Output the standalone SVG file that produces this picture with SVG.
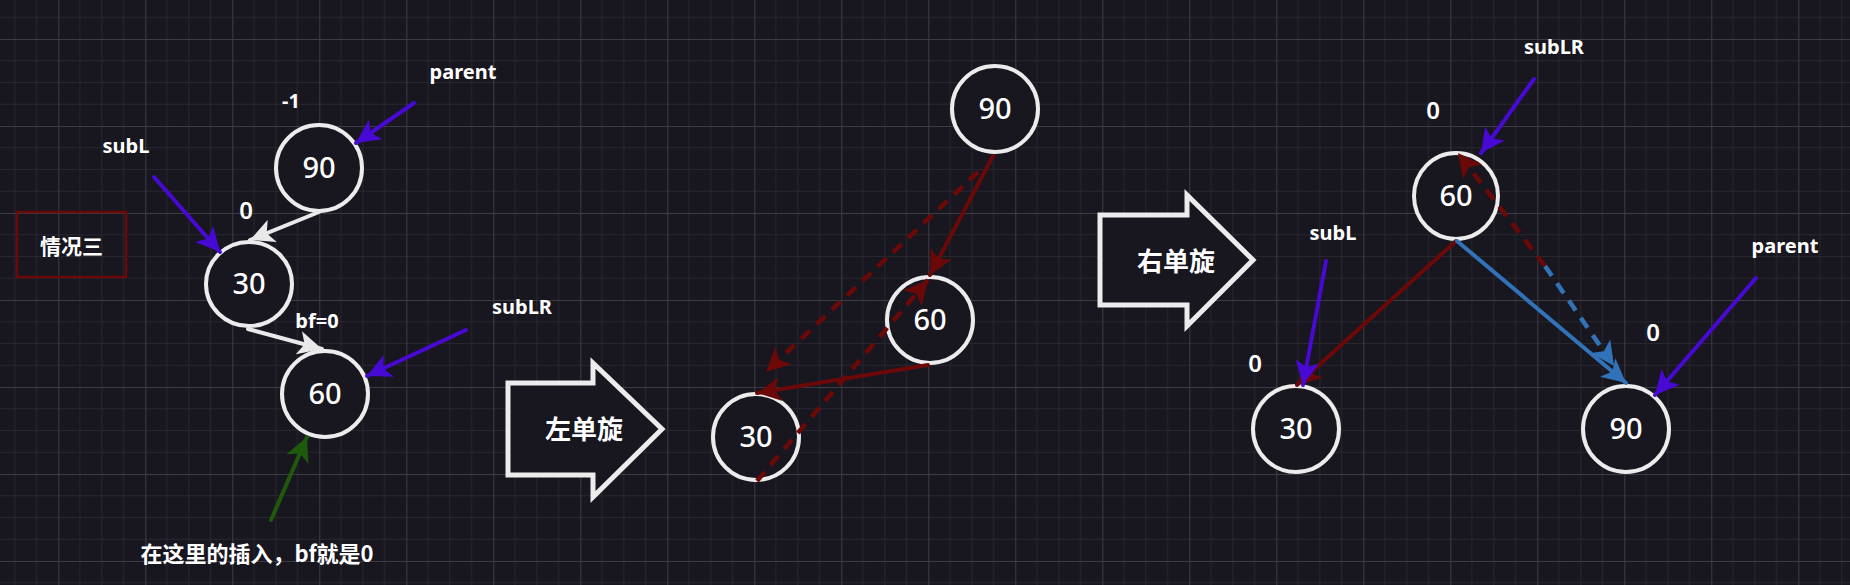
<svg xmlns="http://www.w3.org/2000/svg" width="1850" height="585" viewBox="0 0 1850 585">
<style>
.node ellipse{fill:#18161f;stroke:#ececec;stroke-width:4}
.num{font-family:"Noto Sans","Liberation Sans",sans-serif;font-weight:500;font-size:29px;fill:#ffffff;text-anchor:middle}
.lbl{font-family:"Noto Sans","Liberation Sans",sans-serif;font-weight:bold;font-size:20px;fill:#ffffff;text-anchor:middle}
.zero{font-size:24px;font-weight:600}
.cjk{font-family:"Noto Sans CJK SC","Noto Sans",sans-serif;font-weight:bold;fill:#ffffff;text-anchor:middle}
.w{stroke:#e9e9e9;stroke-width:4;fill:none;stroke-linecap:round}
.p{stroke:#4709d3;stroke-width:4;fill:none;stroke-linecap:round}
.g{stroke:#1f5a0c;stroke-width:4;fill:none;stroke-linecap:round}
.r{stroke:#6b0808;stroke-width:4;fill:none;stroke-linecap:round}
.b{stroke:#3172b8;stroke-width:4;fill:none;stroke-linecap:round}
.dash{stroke-dasharray:12 9;stroke-linecap:butt;stroke-width:4.5}
.bigarrow{fill:#18161f;stroke:#ececec;stroke-width:5;stroke-linejoin:miter}
</style>
<defs>
<pattern id="grid" patternUnits="userSpaceOnUse" x="58.3" y="39" width="87" height="87">
<path d="M21.75 0V87M43.5 0V87M65.25 0V87M0 21.75H87M0 43.5H87M0 65.25H87" stroke="#28262f" stroke-width="1" fill="none"/>
<path d="M0.5 0V87M0 0.5H87" stroke="#3d3b44" stroke-width="1" fill="none"/>
</pattern>
<marker id="mw" markerUnits="userSpaceOnUse" viewBox="0 0 24 24" refX="24" refY="12" markerWidth="24" markerHeight="24" orient="auto"><path d="M0 0L24 12L0 24L6 12z" fill="#e9e9e9"/></marker>
<marker id="mp" markerUnits="userSpaceOnUse" viewBox="0 0 24 24" refX="24" refY="12" markerWidth="24" markerHeight="24" orient="auto"><path d="M0 0L24 12L0 24L6 12z" fill="#4709d3"/></marker>
<marker id="mg" markerUnits="userSpaceOnUse" viewBox="0 0 24 24" refX="24" refY="12" markerWidth="24" markerHeight="24" orient="auto"><path d="M0 0L24 12L0 24L6 12z" fill="#1f5a0c"/></marker>
<marker id="mr" markerUnits="userSpaceOnUse" viewBox="0 0 24 24" refX="24" refY="12" markerWidth="24" markerHeight="24" orient="auto"><path d="M0 0L24 12L0 24L6 12z" fill="#6b0808"/></marker>
<marker id="mb" markerUnits="userSpaceOnUse" viewBox="0 0 24 24" refX="24" refY="12" markerWidth="24" markerHeight="24" orient="auto"><path d="M0 0L24 12L0 24L6 12z" fill="#3172b8"/></marker>
</defs>
<rect width="1850" height="585" fill="#18161f"/>
<rect width="1850" height="585" fill="url(#grid)"/>

<!-- left tree -->
<g id="case3"><rect x="17" y="212" width="109" height="65" fill="none" stroke="#6b0808" stroke-width="2.5"/><text class="cjk" x="71.5" y="254" font-size="21">情况三</text></g>
<g id="L90" class="node"><ellipse cx="319" cy="168" rx="43" ry="43"/><text class="num" x="319" y="178">90</text></g>
<g id="L30" class="node"><ellipse cx="249" cy="284" rx="43" ry="42"/><text class="num" x="249" y="294">30</text></g>
<g id="L60" class="node"><ellipse cx="325" cy="394" rx="43" ry="43"/><text class="num" x="325" y="404">60</text></g>
<g id="Lm1"><text class="lbl" x="291" y="108">-1</text></g>
<g id="Lparent"><text class="lbl" x="463" y="79">parent</text></g>
<g id="LsubL"><text class="lbl" x="126" y="153">subL</text></g>
<g id="L0"><text class="lbl zero" x="246" y="219">0</text></g>
<g id="Lbf"><text class="lbl" x="317" y="328">bf=0</text></g>
<g id="LsubLR"><text class="lbl" x="522" y="314">subLR</text></g>
<g id="Lnote"><text class="cjk" x="257" y="562" font-size="22">在这里的插入，bf就是0</text></g>

<!-- rotate arrows -->
<g id="leftRot"><path class="bigarrow" d="M508 383H593V363L662 429L593 497V475H508Z"/><text class="cjk" x="584" y="439" font-size="26">左单旋</text></g>
<g id="rightRot"><path class="bigarrow" d="M1100 215H1187V195L1253 260L1187 326V305H1100Z"/><text class="cjk" x="1176" y="271" font-size="26">右单旋</text></g>

<!-- middle tree -->
<g id="M90" class="node"><ellipse cx="995" cy="109" rx="43" ry="43"/><text class="num" x="995" y="119">90</text></g>
<g id="M60" class="node"><ellipse cx="930" cy="320" rx="43" ry="43"/><text class="num" x="930" y="330">60</text></g>
<g id="M30" class="node"><ellipse cx="756" cy="437" rx="43" ry="43"/><text class="num" x="756" y="447">30</text></g>

<!-- right tree -->
<g id="R60" class="node"><ellipse cx="1456" cy="196" rx="42" ry="43"/><text class="num" x="1456" y="206">60</text></g>
<g id="R30" class="node"><ellipse cx="1296" cy="429" rx="43" ry="43"/><text class="num" x="1296" y="439">30</text></g>
<g id="R90" class="node"><ellipse cx="1626" cy="429" rx="43" ry="43"/><text class="num" x="1626" y="439">90</text></g>
<g id="RsubLR"><text class="lbl" x="1554" y="54">subLR</text></g>
<g id="R0a"><text class="lbl zero" x="1433" y="119">0</text></g>
<g id="RsubL"><text class="lbl" x="1333" y="240">subL</text></g>
<g id="R0b"><text class="lbl zero" x="1255" y="372">0</text></g>
<g id="Rparent"><text class="lbl" x="1785" y="253">parent</text></g>
<g id="R0c"><text class="lbl zero" x="1653" y="341">0</text></g>

<g id="connectors">
<path class="w" d="M319 212L250 240" marker-end="url(#mw)"/>
<path class="w" d="M248 329L322 349" marker-end="url(#mw)"/>
<path class="p" d="M414 103L356 143" marker-end="url(#mp)"/>
<path class="p" d="M154 177L220 252" marker-end="url(#mp)"/>
<path class="p" d="M466 330L367 376" marker-end="url(#mp)"/>
<path class="g" d="M271 520L307 437" marker-end="url(#mg)"/>

<path class="r" d="M993 156L930 275" marker-end="url(#mr)"/>
<path class="r" d="M928 365L757 393" marker-end="url(#mr)"/>
<path class="r dash" d="M978 172L766 372" marker-end="url(#mr)"/>
<path class="r dash" d="M757 481L928 280" marker-end="url(#mr)"/>

<path class="r" d="M1456 241L1297 385" marker-end="url(#mr)"/>
<path class="b" d="M1457 241L1626 383" marker-end="url(#mb)"/>
<path class="b dash" d="M1545 266L1614 366" marker-end="url(#mb)"/>
<path class="r dash" d="M1545 266L1458 153" marker-end="url(#mr)"/>
<path class="p" d="M1534 79L1481 153" marker-end="url(#mp)"/>
<path class="p" d="M1326 261L1303 385" marker-end="url(#mp)"/>
<path class="p" d="M1756 278L1655 395" marker-end="url(#mp)"/>
</g>
</svg>
